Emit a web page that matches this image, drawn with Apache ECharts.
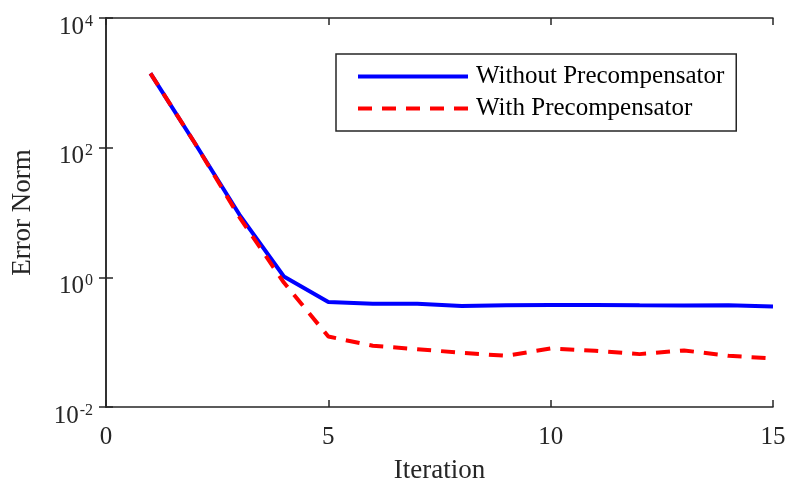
<!DOCTYPE html>
<html>
<head>
<meta charset="utf-8">
<script src="https://cdn.jsdelivr.net/npm/echarts@6/dist/echarts.min.js"></script>
<style>
  html, body { margin: 0; padding: 0; background: #fff; }
  #chart { width: 791px; height: 483px; }
</style>
</head>
<body>
<div id="chart"></div>
<script>
// Error norm per iteration, with and without the precompensator
const iterations = [1, 2, 3, 4, 5, 6, 7, 8, 9, 10, 11, 12, 13, 14, 15];
const withoutPrecomp = [1400, 117, 9.3, 1.03, 0.417, 0.39, 0.39, 0.36, 0.37, 0.375, 0.375, 0.37, 0.368, 0.37, 0.354];
const withPrecomp = [1400, 117, 8.5, 0.83, 0.122, 0.088, 0.078, 0.0685, 0.0616, 0.080, 0.0736, 0.0654, 0.0745, 0.0616, 0.056];
const xTicks = [0, 5, 10, 15];
const seriesNames = ['Without Precompensator', 'With Precompensator'];

const font = 'Liberation Serif';
const axisColor = '#262626';
const textColor = '#262626';

function pairs(vals) {
  return iterations.map((x, i) => [x, vals[i]]);
}

// 10^n labels drawn with a raised exponent
const powLabel = function (v) {
  const e = Math.round(Math.log10(v));
  return '{b|10}{s|' + e + '}';
};

const chart = echarts.init(document.getElementById('chart'), null, { renderer: 'canvas' });
chart.setOption({
  animation: false,
  backgroundColor: '#fff',
  grid: { left: 106, right: 18, top: 18, bottom: 76, containLabel: false, outerBoundsMode: 'none' },
  legend: {
    orient: 'vertical',
    left: 336,
    top: 54,
    padding: [10, 12, 10, 20],
    itemGap: 7,
    itemWidth: 110,
    itemHeight: 20,
    borderColor: axisColor,
    borderWidth: 1.5,
    backgroundColor: '#fff',
    itemStyle: { opacity: 0 },
    lineStyle: { width: 4 },
    textStyle: { fontFamily: font, fontSize: 25, color: '#000', lineHeight: 24, padding: [0, 0, 0, 3] },
    data: seriesNames
  },
  xAxis: [{
    type: 'value',
    min: 0, max: 15, interval: 5,
    name: 'Iteration',
    nameLocation: 'middle',
    nameGap: 50,
    nameTextStyle: { fontFamily: font, fontSize: 27, color: textColor },
    axisLine: { show: true, onZero: false, lineStyle: { color: axisColor, width: 1.5 } },
    axisTick: { show: true, inside: true, length: 7, lineStyle: { color: axisColor, width: 1.5 } },
    axisLabel: {
      fontFamily: font, fontSize: 25, color: textColor, margin: 18,
      formatter: v => (xTicks.includes(v) ? String(v) : '')
    },
    splitLine: { show: false }
  }, {
    type: 'value', position: 'top',
    min: 0, max: 15, interval: 5,
    axisLine: { show: true, lineStyle: { color: axisColor, width: 1.5 } },
    axisTick: { show: true, inside: true, length: 7, lineStyle: { color: axisColor, width: 1.5 } },
    axisLabel: { show: false },
    splitLine: { show: false }
  }],
  yAxis: [{
    type: 'log',
    logBase: 10,
    min: 0.01, max: 10000,
    interval: 2,
    name: 'Error Norm',
    nameLocation: 'middle',
    nameGap: 70,
    nameRotate: 90,
    nameTextStyle: { fontFamily: font, fontSize: 27, color: textColor },
    axisLine: { show: true, lineStyle: { color: axisColor, width: 1.5 } },
    axisTick: { show: true, inside: true, length: 7, lineStyle: { color: axisColor, width: 1.5 } },
    axisLabel: {
      margin: 13,
      padding: [17, 0, 0, 0],
      formatter: powLabel,
      rich: {
        b: { fontFamily: font, fontSize: 25, color: textColor, verticalAlign: 'bottom', lineHeight: 26 },
        s: { fontFamily: font, fontSize: 16, color: textColor, verticalAlign: 'top', padding: [0, 0, 16, 1], lineHeight: 26 }
      }
    },
    splitLine: { show: false },
    minorTick: { show: false }
  }, {
    type: 'log',
    logBase: 10,
    position: 'right',
    min: 0.01, max: 10000,
    interval: 2,
    axisLine: { show: true, lineStyle: { color: axisColor, width: 1.5 } },
    axisTick: { show: true, inside: true, length: 7, lineStyle: { color: axisColor, width: 1.5 } },
    axisLabel: { show: false },
    splitLine: { show: false }
  }],
  series: [{
    name: seriesNames[0],
    type: 'line',
    data: pairs(withoutPrecomp),
    showSymbol: false,
    symbol: 'none',
    lineStyle: { color: '#0000ff', width: 4 },
    itemStyle: { color: '#0000ff' },
    z: 2
  }, {
    name: seriesNames[1],
    type: 'line',
    data: pairs(withPrecomp),
    showSymbol: false,
    symbol: 'none',
    lineStyle: { color: '#ff0000', width: 4, type: [14, 10] },
    itemStyle: { color: '#ff0000' },
    z: 3
  }]
});
</script>
</body>
</html>
